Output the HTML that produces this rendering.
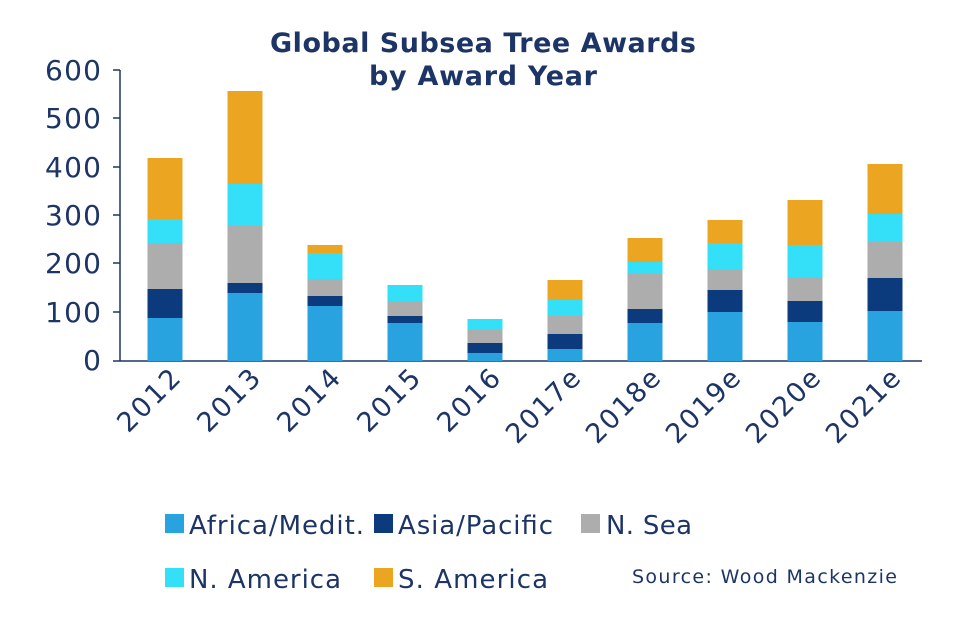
<!DOCTYPE html>
<html><head><meta charset="utf-8"><style>
html,body{margin:0;padding:0;background:#fff;}
svg{display:block;font-family:"DejaVu Sans","Liberation Sans",sans-serif;}
</style></head><body>
<svg width="975" height="619" viewBox="0 0 975 619" xmlns="http://www.w3.org/2000/svg">
<rect width="975" height="619" fill="#fff"/>
<text x="483" y="52" text-anchor="middle" font-size="27" font-weight="bold" fill="#1d3566" textLength="426">Global Subsea Tree Awards</text>
<text x="483" y="85" text-anchor="middle" font-size="27" font-weight="bold" fill="#1d3566" textLength="228">by Award Year</text>
<g font-size="28" fill="#1d3566" text-anchor="end">
<text x="101" y="80" textLength="56">600</text><text x="101" y="128" textLength="56">500</text><text x="101" y="177" textLength="56">400</text>
<text x="101" y="225" textLength="56">300</text><text x="101" y="273" textLength="56">200</text><text x="101" y="322" textLength="56">100</text><text x="101" y="370">0</text>
</g>
<g stroke="#1d3566" stroke-width="1.5">
<line x1="120" y1="70" x2="120" y2="361"/>
<line x1="120" y1="361" x2="922" y2="361"/>
<line x1="113" y1="70" x2="120" y2="70"/><line x1="113" y1="118" x2="120" y2="118"/><line x1="113" y1="167" x2="120" y2="167"/>
<line x1="113" y1="215" x2="120" y2="215"/><line x1="113" y1="263" x2="120" y2="263"/><line x1="113" y1="312" x2="120" y2="312"/><line x1="113" y1="361" x2="120" y2="361"/>
</g>
<g>
<rect x="147.5" y="318" width="35" height="43" fill="#29a3e0"/><rect x="147.5" y="289" width="35" height="29" fill="#0b3a7d"/><rect x="147.5" y="243" width="35" height="46" fill="#adadad"/><rect x="147.5" y="219" width="35" height="24" fill="#33e0f7"/><rect x="147.5" y="158" width="35" height="61" fill="#eba521"/>
<rect x="227.5" y="293" width="35" height="68" fill="#29a3e0"/><rect x="227.5" y="283" width="35" height="10" fill="#0b3a7d"/><rect x="227.5" y="225" width="35" height="58" fill="#adadad"/><rect x="227.5" y="184" width="35" height="41" fill="#33e0f7"/><rect x="227.5" y="91" width="35" height="93" fill="#eba521"/>
<rect x="307.5" y="306" width="35" height="55" fill="#29a3e0"/><rect x="307.5" y="296" width="35" height="10" fill="#0b3a7d"/><rect x="307.5" y="279" width="35" height="17" fill="#adadad"/><rect x="307.5" y="253" width="35" height="26" fill="#33e0f7"/><rect x="307.5" y="245" width="35" height="8" fill="#eba521"/>
<rect x="387.5" y="323" width="35" height="38" fill="#29a3e0"/><rect x="387.5" y="316" width="35" height="7" fill="#0b3a7d"/><rect x="387.5" y="301" width="35" height="15" fill="#adadad"/><rect x="387.5" y="285" width="35" height="16" fill="#33e0f7"/>
<rect x="467.5" y="353" width="35" height="8" fill="#29a3e0"/><rect x="467.5" y="343" width="35" height="10" fill="#0b3a7d"/><rect x="467.5" y="330" width="35" height="13" fill="#adadad"/><rect x="467.5" y="319" width="35" height="11" fill="#33e0f7"/>
<rect x="547.5" y="349" width="35" height="12" fill="#29a3e0"/><rect x="547.5" y="334" width="35" height="15" fill="#0b3a7d"/><rect x="547.5" y="316" width="35" height="18" fill="#adadad"/><rect x="547.5" y="300" width="35" height="16" fill="#33e0f7"/><rect x="547.5" y="280" width="35" height="20" fill="#eba521"/>
<rect x="627.5" y="323" width="35" height="38" fill="#29a3e0"/><rect x="627.5" y="309" width="35" height="14" fill="#0b3a7d"/><rect x="627.5" y="274" width="35" height="35" fill="#adadad"/><rect x="627.5" y="262" width="35" height="12" fill="#33e0f7"/><rect x="627.5" y="238" width="35" height="24" fill="#eba521"/>
<rect x="707.5" y="312" width="35" height="49" fill="#29a3e0"/><rect x="707.5" y="290" width="35" height="22" fill="#0b3a7d"/><rect x="707.5" y="269" width="35" height="21" fill="#adadad"/><rect x="707.5" y="243" width="35" height="26" fill="#33e0f7"/><rect x="707.5" y="220" width="35" height="23" fill="#eba521"/>
<rect x="787.5" y="322" width="35" height="39" fill="#29a3e0"/><rect x="787.5" y="301" width="35" height="21" fill="#0b3a7d"/><rect x="787.5" y="277" width="35" height="24" fill="#adadad"/><rect x="787.5" y="245" width="35" height="32" fill="#33e0f7"/><rect x="787.5" y="200" width="35" height="45" fill="#eba521"/>
<rect x="867.5" y="311" width="35" height="50" fill="#29a3e0"/><rect x="867.5" y="278" width="35" height="33" fill="#0b3a7d"/><rect x="867.5" y="242" width="35" height="36" fill="#adadad"/><rect x="867.5" y="214" width="35" height="28" fill="#33e0f7"/><rect x="867.5" y="164" width="35" height="50" fill="#eba521"/>
</g>
<g font-size="27" fill="#1d3566" text-anchor="end">
<text transform="translate(182,380) rotate(-45)" textLength="76">2012</text>
<text transform="translate(262,380) rotate(-45)" textLength="76">2013</text>
<text transform="translate(342,380) rotate(-45)" textLength="76">2014</text>
<text transform="translate(422,380) rotate(-45)" textLength="76">2015</text>
<text transform="translate(502,380) rotate(-45)" textLength="76">2016</text>
<text transform="translate(582,380) rotate(-45)" textLength="92">2017e</text>
<text transform="translate(662,380) rotate(-45)" textLength="92">2018e</text>
<text transform="translate(742,380) rotate(-45)" textLength="92">2019e</text>
<text transform="translate(822,380) rotate(-45)" textLength="92">2020e</text>
<text transform="translate(902,380) rotate(-45)" textLength="92">2021e</text>
</g>
<g font-size="26" fill="#1d3566">
<rect x="165" y="514" width="19" height="19" fill="#29a3e0"/><text x="189" y="534" textLength="175">Africa/Medit.</text>
<rect x="374" y="514" width="19" height="19" fill="#0b3a7d"/><text x="398" y="534" textLength="155">Asia/Pacific</text>
<rect x="581" y="514" width="19" height="19" fill="#adadad"/><text x="606" y="534" textLength="86">N. Sea</text>
<rect x="165" y="568" width="19" height="19" fill="#33e0f7"/><text x="189" y="588" textLength="152">N. America</text>
<rect x="374" y="568" width="19" height="19" fill="#eba521"/><text x="398" y="588" textLength="150">S. America</text>
</g>
<text x="632" y="583" font-size="19" fill="#1d3566" textLength="265">Source: Wood Mackenzie</text>
</svg>
</body></html>
